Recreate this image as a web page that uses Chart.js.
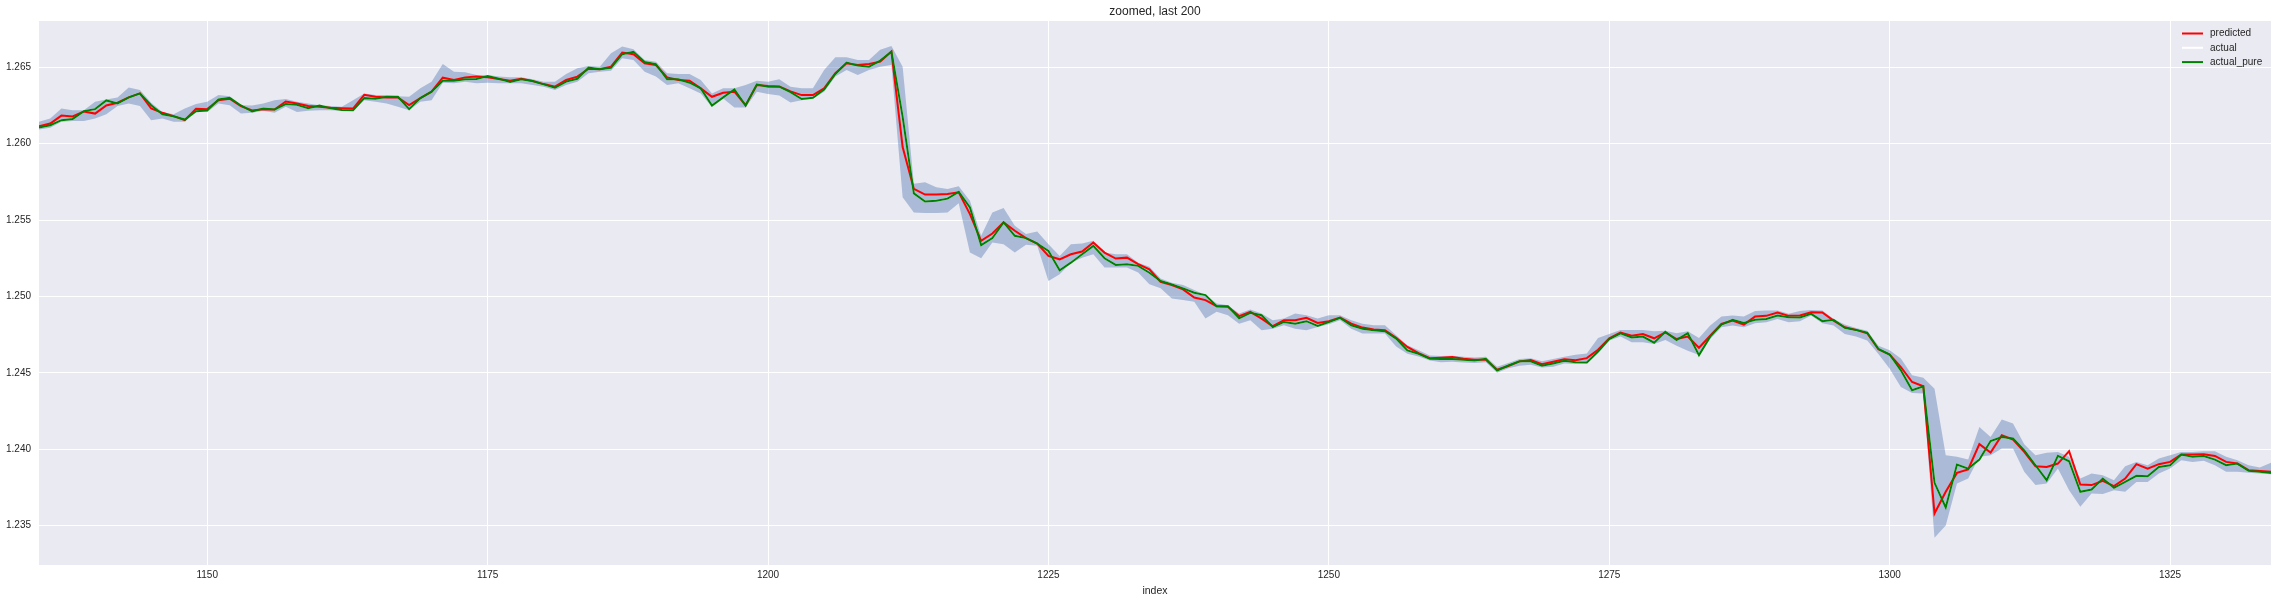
<!DOCTYPE html>
<html>
<head>
<meta charset="utf-8">
<title>zoomed, last 200</title>
<script src="https://cdn.jsdelivr.net/npm/chart.js@4.4.0/dist/chart.umd.min.js"></script>
<style>
  html, body { margin: 0; padding: 0; background: #ffffff; }
  canvas { display: block; }
</style>
</head>
<body>
<canvas id="zoomCanvas" width="2278" height="602"></canvas>
<script>
// index of each sample (last 200)
const indexes = [
  1135, 1136, 1137, 1138, 1139, 1140, 1141, 1142, 1143, 1144,
  1145, 1146, 1147, 1148, 1149, 1150, 1151, 1152, 1153, 1154,
  1155, 1156, 1157, 1158, 1159, 1160, 1161, 1162, 1163, 1164,
  1165, 1166, 1167, 1168, 1169, 1170, 1171, 1172, 1173, 1174,
  1175, 1176, 1177, 1178, 1179, 1180, 1181, 1182, 1183, 1184,
  1185, 1186, 1187, 1188, 1189, 1190, 1191, 1192, 1193, 1194,
  1195, 1196, 1197, 1198, 1199, 1200, 1201, 1202, 1203, 1204,
  1205, 1206, 1207, 1208, 1209, 1210, 1211, 1212, 1213, 1214,
  1215, 1216, 1217, 1218, 1219, 1220, 1221, 1222, 1223, 1224,
  1225, 1226, 1227, 1228, 1229, 1230, 1231, 1232, 1233, 1234,
  1235, 1236, 1237, 1238, 1239, 1240, 1241, 1242, 1243, 1244,
  1245, 1246, 1247, 1248, 1249, 1250, 1251, 1252, 1253, 1254,
  1255, 1256, 1257, 1258, 1259, 1260, 1261, 1262, 1263, 1264,
  1265, 1266, 1267, 1268, 1269, 1270, 1271, 1272, 1273, 1274,
  1275, 1276, 1277, 1278, 1279, 1280, 1281, 1282, 1283, 1284,
  1285, 1286, 1287, 1288, 1289, 1290, 1291, 1292, 1293, 1294,
  1295, 1296, 1297, 1298, 1299, 1300, 1301, 1302, 1303, 1304,
  1305, 1306, 1307, 1308, 1309, 1310, 1311, 1312, 1313, 1314,
  1315, 1316, 1317, 1318, 1319, 1320, 1321, 1322, 1323, 1324,
  1325, 1326, 1327, 1328, 1329, 1330, 1331, 1332, 1333, 1334
];

const predicted = [
  1.26114, 1.26132, 1.26184, 1.26178, 1.26211, 1.26197, 1.26250, 1.26268, 1.26303, 1.26329,
  1.26230, 1.26202, 1.26180, 1.26154, 1.26228, 1.26226, 1.26285, 1.26294, 1.26246, 1.26217,
  1.26226, 1.26224, 1.26276, 1.26263, 1.26246, 1.26241, 1.26235, 1.26232, 1.26230, 1.26320,
  1.26307, 1.26303, 1.26303, 1.26252, 1.26298, 1.26340, 1.26432, 1.26417, 1.26434, 1.26439,
  1.26434, 1.26423, 1.26412, 1.26425, 1.26410, 1.26390, 1.26373, 1.26417, 1.26439, 1.26491,
  1.26487, 1.26504, 1.26596, 1.26586, 1.26526, 1.26515, 1.26434, 1.26417, 1.26412, 1.26362,
  1.26307, 1.26333, 1.26340, 1.26252, 1.26384, 1.26377, 1.26375, 1.26342, 1.26318, 1.26318,
  1.26362, 1.26461, 1.26526, 1.26515, 1.26522, 1.26537, 1.26603, 1.25978, 1.25704, 1.25667,
  1.25667, 1.25671, 1.25682, 1.25539, 1.25364, 1.25412, 1.25485, 1.25430, 1.25382, 1.25346,
  1.25265, 1.25243, 1.25276, 1.25294, 1.25353, 1.25287, 1.25248, 1.25254, 1.25211, 1.25178,
  1.25096, 1.25075, 1.25046, 1.24993, 1.24976, 1.24936, 1.24932, 1.24871, 1.24899, 1.24855,
  1.24805, 1.24844, 1.24844, 1.24860, 1.24827, 1.24838, 1.24862, 1.24822, 1.24796, 1.24783,
  1.24779, 1.24730, 1.24669, 1.24629, 1.24596, 1.24599, 1.24603, 1.24592, 1.24586, 1.24586,
  1.24520, 1.24545, 1.24575, 1.24583, 1.24557, 1.24572, 1.24588, 1.24583, 1.24596, 1.24651,
  1.24726, 1.24763, 1.24743, 1.24754, 1.24726, 1.24765, 1.24721, 1.24737, 1.24664, 1.24743,
  1.24820, 1.24842, 1.24816, 1.24868, 1.24873, 1.24895, 1.24873, 1.24875, 1.24897, 1.24895,
  1.24842, 1.24798, 1.24781, 1.24759, 1.24654, 1.24620, 1.24538, 1.24440, 1.24412, 1.23579,
  1.23721, 1.23845, 1.23867, 1.24033, 1.23978, 1.24091, 1.24063, 1.23982, 1.23889, 1.23884,
  1.23906, 1.23987, 1.23769, 1.23765, 1.23793, 1.23758, 1.23808, 1.23902, 1.23873, 1.23902,
  1.23917, 1.23965, 1.23965, 1.23967, 1.23956, 1.23917, 1.23906, 1.23863, 1.23858, 1.23852
];

const actualPure = [
  1.26105, 1.26121, 1.26154, 1.26162, 1.26213, 1.26226, 1.26283, 1.26263, 1.26303, 1.26329,
  1.26252, 1.26193, 1.26180, 1.26158, 1.26213, 1.26217, 1.26289, 1.26300, 1.26250, 1.26211,
  1.26230, 1.26224, 1.26259, 1.26254, 1.26232, 1.26250, 1.26232, 1.26221, 1.26219, 1.26298,
  1.26294, 1.26307, 1.26307, 1.26226, 1.26298, 1.26340, 1.26412, 1.26412, 1.26421, 1.26423,
  1.26443, 1.26425, 1.26404, 1.26421, 1.26410, 1.26388, 1.26366, 1.26406, 1.26425, 1.26498,
  1.26487, 1.26496, 1.26586, 1.26601, 1.26535, 1.26520, 1.26421, 1.26421, 1.26399, 1.26362,
  1.26250, 1.26303, 1.26355, 1.26250, 1.26388, 1.26373, 1.26373, 1.26337, 1.26292, 1.26300,
  1.26355, 1.26456, 1.26531, 1.26511, 1.26504, 1.26544, 1.26603, 1.26175, 1.25675, 1.25621,
  1.25627, 1.25640, 1.25684, 1.25583, 1.25336, 1.25382, 1.25485, 1.25397, 1.25382, 1.25346,
  1.25298, 1.25171, 1.25221, 1.25276, 1.25331, 1.25250, 1.25206, 1.25211, 1.25200, 1.25155,
  1.25101, 1.25079, 1.25053, 1.25024, 1.25009, 1.24936, 1.24936, 1.24857, 1.24893, 1.24877,
  1.24800, 1.24833, 1.24822, 1.24838, 1.24807, 1.24833, 1.24860, 1.24811, 1.24789, 1.24779,
  1.24772, 1.24724, 1.24647, 1.24625, 1.24592, 1.24590, 1.24590, 1.24586, 1.24581, 1.24592,
  1.24515, 1.24548, 1.24575, 1.24575, 1.24546, 1.24561, 1.24579, 1.24570, 1.24568, 1.24640,
  1.24721, 1.24759, 1.24732, 1.24737, 1.24697, 1.24768, 1.24715, 1.24759, 1.24616, 1.24737,
  1.24816, 1.24847, 1.24827, 1.24847, 1.24853, 1.24875, 1.24864, 1.24862, 1.24886, 1.24838,
  1.24847, 1.24794, 1.24781, 1.24763, 1.24656, 1.24620, 1.24516, 1.24386, 1.24412, 1.23780,
  1.23619, 1.23900, 1.23873, 1.23932, 1.24054, 1.24080, 1.24070, 1.23993, 1.23895, 1.23797,
  1.23956, 1.23921, 1.23721, 1.23736, 1.23808, 1.23747, 1.23786, 1.23826, 1.23823, 1.23884,
  1.23895, 1.23965, 1.23950, 1.23956, 1.23932, 1.23895, 1.23906, 1.23858, 1.23852, 1.23845
];

// shaded range (upper / lower edge)
const rangeHigh = [
  1.26143, 1.26164, 1.26230, 1.26219, 1.26219, 1.26274, 1.26289, 1.26303, 1.26368, 1.26351,
  1.26268, 1.26208, 1.26193, 1.26230, 1.26259, 1.26274, 1.26318, 1.26311, 1.26252, 1.26250,
  1.26263, 1.26285, 1.26292, 1.26274, 1.26263, 1.26252, 1.26246, 1.26241, 1.26285, 1.26329,
  1.26318, 1.26318, 1.26311, 1.26307, 1.26362, 1.26406, 1.26522, 1.26471, 1.26467, 1.26450,
  1.26450, 1.26439, 1.26434, 1.26434, 1.26421, 1.26406, 1.26406, 1.26456, 1.26493, 1.26509,
  1.26504, 1.26592, 1.26636, 1.26618, 1.26548, 1.26537, 1.26461, 1.26456, 1.26456, 1.26417,
  1.26329, 1.26362, 1.26362, 1.26384, 1.26412, 1.26406, 1.26421, 1.26373, 1.26362, 1.26362,
  1.26482, 1.26566, 1.26566, 1.26548, 1.26548, 1.26614, 1.26640, 1.26504, 1.25737, 1.25748,
  1.25715, 1.25704, 1.25721, 1.25627, 1.25397, 1.25550, 1.25579, 1.25463, 1.25408, 1.25425,
  1.25342, 1.25265, 1.25342, 1.25346, 1.25364, 1.25287, 1.25276, 1.25276, 1.25221, 1.25195,
  1.25118, 1.25090, 1.25075, 1.25042, 1.25009, 1.24954, 1.24943, 1.24888, 1.24914, 1.24888,
  1.24844, 1.24855, 1.24888, 1.24877, 1.24855, 1.24877, 1.24877, 1.24844, 1.24822, 1.24811,
  1.24811, 1.24746, 1.24680, 1.24647, 1.24614, 1.24610, 1.24612, 1.24605, 1.24600, 1.24605,
  1.24540, 1.24565, 1.24590, 1.24596, 1.24575, 1.24590, 1.24605, 1.24618, 1.24627, 1.24728,
  1.24754, 1.24781, 1.24781, 1.24781, 1.24772, 1.24776, 1.24759, 1.24772, 1.24728, 1.24809,
  1.24868, 1.24875, 1.24868, 1.24904, 1.24908, 1.24908, 1.24886, 1.24904, 1.24912, 1.24908,
  1.24853, 1.24816, 1.24794, 1.24776, 1.24678, 1.24647, 1.24593, 1.24484, 1.24468, 1.24396,
  1.23961, 1.23950, 1.23932, 1.24146, 1.24080, 1.24194, 1.24168, 1.24033, 1.23961, 1.23976,
  1.23982, 1.23950, 1.23808, 1.23841, 1.23830, 1.23797, 1.23889, 1.23917, 1.23895, 1.23939,
  1.23961, 1.23982, 1.23982, 1.23987, 1.23987, 1.23950, 1.23928, 1.23895, 1.23880, 1.23911
];

const rangeLow = [
  1.26092, 1.26105, 1.26143, 1.26149, 1.26149, 1.26164, 1.26193, 1.26246, 1.26263, 1.26246,
  1.26154, 1.26164, 1.26143, 1.26143, 1.26208, 1.26208, 1.26263, 1.26252, 1.26197, 1.26202,
  1.26215, 1.26202, 1.26241, 1.26208, 1.26215, 1.26219, 1.26219, 1.26215, 1.26215, 1.26285,
  1.26274, 1.26263, 1.26241, 1.26219, 1.26274, 1.26285, 1.26399, 1.26395, 1.26406, 1.26395,
  1.26399, 1.26395, 1.26395, 1.26395, 1.26384, 1.26373, 1.26351, 1.26384, 1.26406, 1.26461,
  1.26471, 1.26478, 1.26559, 1.26548, 1.26471, 1.26439, 1.26384, 1.26395, 1.26362, 1.26329,
  1.26240, 1.26296, 1.26237, 1.26237, 1.26340, 1.26325, 1.26316, 1.26270, 1.26285, 1.26296,
  1.26340, 1.26439, 1.26482, 1.26450, 1.26482, 1.26504, 1.26515, 1.25649, 1.25550, 1.25546,
  1.25546, 1.25550, 1.25610, 1.25287, 1.25250, 1.25353, 1.25342, 1.25287, 1.25338, 1.25331,
  1.25101, 1.25145, 1.25221, 1.25254, 1.25276, 1.25189, 1.25189, 1.25189, 1.25156, 1.25079,
  1.25053, 1.24987, 1.24976, 1.24965, 1.24855, 1.24899, 1.24877, 1.24822, 1.24844, 1.24779,
  1.24789, 1.24811, 1.24789, 1.24779, 1.24800, 1.24818, 1.24844, 1.24789, 1.24757, 1.24757,
  1.24757, 1.24673, 1.24625, 1.24607, 1.24581, 1.24570, 1.24572, 1.24568, 1.24565, 1.24570,
  1.24500, 1.24530, 1.24546, 1.24553, 1.24535, 1.24539, 1.24561, 1.24557, 1.24561, 1.24627,
  1.24711, 1.24737, 1.24700, 1.24700, 1.24689, 1.24715, 1.24678, 1.24645, 1.24616, 1.24721,
  1.24798, 1.24809, 1.24798, 1.24825, 1.24831, 1.24853, 1.24831, 1.24838, 1.24875, 1.24825,
  1.24809, 1.24754, 1.24737, 1.24711, 1.24623, 1.24527, 1.24407, 1.24368, 1.24364, 1.23420,
  1.23500, 1.23775, 1.23808, 1.23950, 1.23961, 1.24004, 1.24004, 1.23852, 1.23765, 1.23775,
  1.23873, 1.23732, 1.23623, 1.23710, 1.23706, 1.23732, 1.23721, 1.23786, 1.23786, 1.23841,
  1.23873, 1.23928, 1.23917, 1.23924, 1.23895, 1.23852, 1.23852, 1.23846, 1.23841, 1.23836
];

const xTicks = [1150, 1175, 1200, 1225, 1250, 1275, 1300, 1325];
const yTicks = [1.235, 1.240, 1.245, 1.250, 1.255, 1.260, 1.265];

const FONT = '"Liberation Sans", Arial, sans-serif';
const TEXT = '#262626';

function points(values) {
  return indexes.map((x, i) => ({ x: x, y: values[i] }));
}

// grey plot background
const plotBackground = {
  id: 'plotBackground',
  beforeDraw(chart) {
    const a = chart.chartArea;
    const ctx = chart.ctx;
    ctx.save();
    ctx.fillStyle = '#eaeaf2';
    ctx.fillRect(a.left, a.top, a.right - a.left, a.bottom - a.top);
    ctx.restore();
  }
};

// title centred over the plot, legend in the upper right corner
const titleAndLegend = {
  id: 'titleAndLegend',
  afterDraw(chart) {
    const a = chart.chartArea;
    const ctx = chart.ctx;
    ctx.save();
    ctx.fillStyle = TEXT;
    ctx.font = '12px ' + FONT;
    ctx.textAlign = 'center';
    ctx.textBaseline = 'middle';
    ctx.fillText('zoomed, last 200', (a.left + a.right) / 2, 12);

    ctx.font = '10px ' + FONT;
    ctx.textAlign = 'left';
    chart.data.datasets.filter(d => d.inLegend).forEach((d, i) => {
      const y = a.top + 12.5 + i * 14.3;
      ctx.strokeStyle = d.borderColor;
      ctx.lineWidth = 2;
      ctx.beginPath();
      ctx.moveTo(a.right - 89, y);
      ctx.lineTo(a.right - 68, y);
      ctx.stroke();
      ctx.fillStyle = TEXT;
      ctx.fillText(d.label, a.right - 61, y);
    });
    ctx.restore();
  }
};

var ctx = document.getElementById('zoomCanvas').getContext('2d');
var chart = new Chart(ctx, {
  type: 'line',
  data: {
    datasets: [
      {
        label: 'predicted',
        data: points(predicted),
        borderColor: '#ff0000',
        borderWidth: 2,
        inLegend: true,
        order: 1
      },
      {
        // drawn in white, hidden under actual_pure
        label: 'actual',
        data: points(actualPure),
        borderColor: '#ffffff',
        borderWidth: 2,
        inLegend: true,
        order: 2
      },
      {
        label: 'actual_pure',
        data: points(actualPure),
        borderColor: '#008000',
        borderWidth: 2,
        inLegend: true,
        order: 0
      },
      {
        label: 'range low',
        data: points(rangeLow),
        borderColor: 'rgba(0,0,0,0)',
        borderWidth: 0,
        fill: false,
        order: 4
      },
      {
        label: 'range high',
        data: points(rangeHigh),
        borderColor: 'rgba(0,0,0,0)',
        borderWidth: 0,
        backgroundColor: 'rgba(76,114,176,0.4)',
        fill: '-1',
        order: 3
      }
    ]
  },
  options: {
    responsive: false,
    animation: false,
    devicePixelRatio: 1,
    layout: { padding: { left: 0, right: 7, top: 21, bottom: 0 } },
    elements: {
      point: { radius: 0, hoverRadius: 0 },
      line: { tension: 0, borderCapStyle: 'butt', borderJoinStyle: 'miter' }
    },
    plugins: {
      legend: { display: false },
      title: { display: false },
      tooltip: { enabled: false },
      filler: { propagate: false }
    },
    scales: {
      x: {
        type: 'linear',
        min: 1135,
        max: 1334,
        afterBuildTicks: scale => { scale.ticks = xTicks.map(v => ({ value: v })); },
        afterFit: scale => { scale.height = 37; },
        grid: { color: '#ffffff', lineWidth: 1, drawTicks: false },
        border: { display: false },
        ticks: {
          padding: 4,
          color: TEXT,
          font: { family: FONT, size: 10 },
          maxRotation: 0,
          callback: v => String(v)
        },
        title: {
          display: true,
          text: 'index',
          color: TEXT,
          font: { family: FONT, size: 10.5 },
          padding: { top: 0, bottom: 5 }
        }
      },
      y: {
        type: 'linear',
        min: 1.23242,
        max: 1.26803,
        afterBuildTicks: scale => { scale.ticks = yTicks.map(v => ({ value: v })); },
        afterFit: scale => { scale.width = 39; },
        grid: { color: '#ffffff', lineWidth: 1, drawTicks: false },
        border: { display: false },
        ticks: {
          padding: 8,
          color: TEXT,
          font: { family: FONT, size: 10 },
          callback: v => v.toFixed(3)
        }
      }
    }
  },
  plugins: [plotBackground, titleAndLegend]
});
</script>
</body>
</html>
